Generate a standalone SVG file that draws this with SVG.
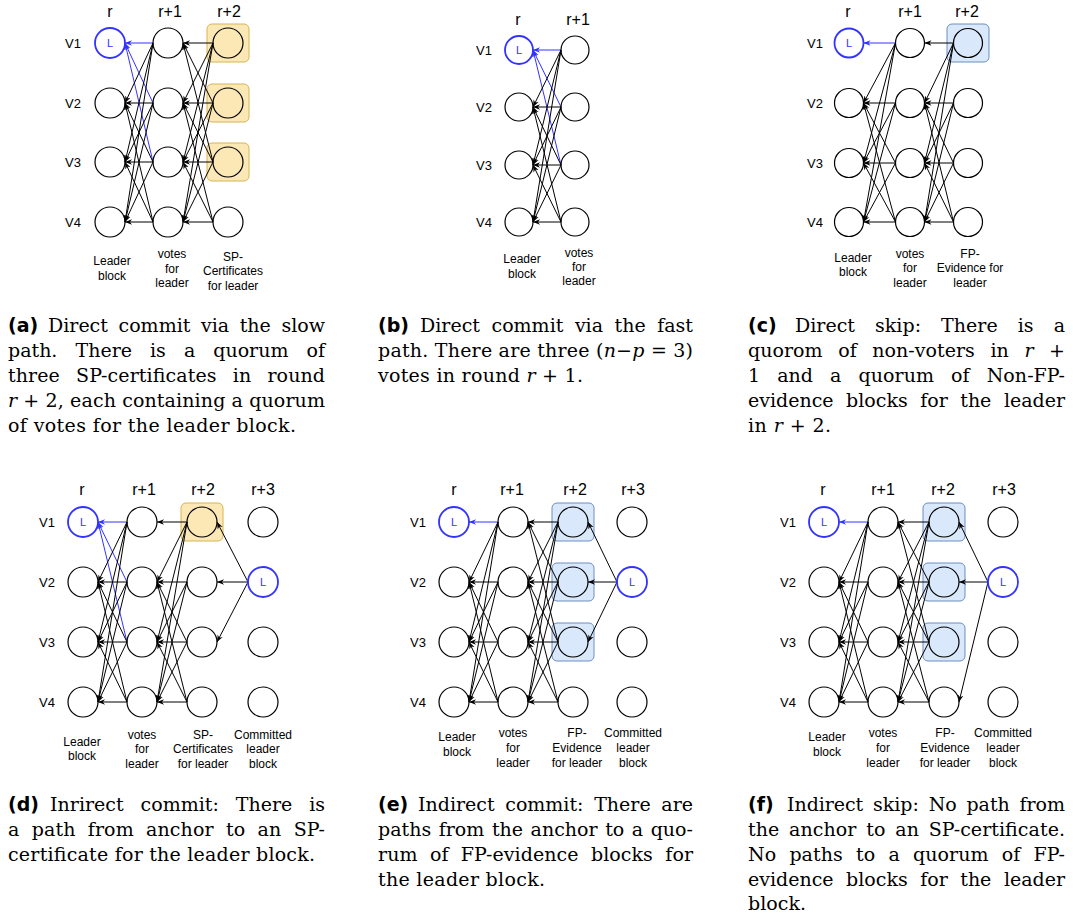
<svg xmlns="http://www.w3.org/2000/svg" width="1073" height="920" viewBox="0 0 1073 920">
<style>
.e{stroke:#000;stroke-width:1;fill:none;marker-end:url(#ak)}
.b{stroke:#3333ff;stroke-width:1;fill:none;marker-end:url(#ab)}
.n{fill:none;stroke:#000;stroke-width:1.2}
.L{fill:none;stroke:#3333ff;stroke-width:1.8}
.lt{font-family:'Liberation Sans',Arial,sans-serif;font-size:11px;fill:#3333ff;text-anchor:middle}
.h{font-family:'Liberation Sans',Arial,sans-serif;font-size:16px;text-anchor:middle;fill:#000}
.v{font-family:'Liberation Sans',Arial,sans-serif;font-size:13px;text-anchor:middle;fill:#000}
.lb{font-family:'Liberation Sans',Arial,sans-serif;font-size:12px;text-anchor:middle;fill:#000}
.yb{fill:#fce8b4;stroke:#d6b656;stroke-width:1}
.bb{fill:#dae8fc;stroke:#6c8ebf;stroke-width:1}
.cap{font-family:'DejaVu Serif','Liberation Serif',serif;font-size:19px;fill:#000}
.tag{font-family:'DejaVu Sans',sans-serif;font-weight:bold;font-size:19px;fill:#000}
.i{font-style:italic}
</style>
<defs>
<marker id="ak" viewBox="0 0 10 10" refX="10" refY="5" markerWidth="7" markerHeight="7" markerUnits="userSpaceOnUse" orient="auto"><path d="M0,1 L10,5 L0,9 L3,5 z" fill="#000"/></marker>
<marker id="ab" viewBox="0 0 10 10" refX="10" refY="5" markerWidth="7" markerHeight="7" markerUnits="userSpaceOnUse" orient="auto"><path d="M0,1 L10,5 L0,9 L3,5 z" fill="#3333ff"/></marker>
</defs>
<rect width="1073" height="920" fill="#fff"/>

<g id="boxes">
<rect class="yb" x="207" y="24" width="42" height="38" rx="5"/>
<rect class="yb" x="207" y="84" width="42" height="38" rx="5"/>
<rect class="yb" x="207" y="143" width="42" height="38" rx="5"/>
<rect class="bb" x="947" y="24" width="42" height="38" rx="5"/>
<rect class="yb" x="181" y="503" width="42" height="38" rx="5"/>
<rect class="bb" x="552" y="503" width="42" height="38" rx="5"/>
<rect class="bb" x="552" y="563" width="42" height="38" rx="5"/>
<rect class="bb" x="552" y="623" width="42" height="38" rx="5"/>
<rect class="bb" x="923" y="503" width="42" height="38" rx="5"/>
<rect class="bb" x="923" y="563" width="42" height="38" rx="5"/>
<rect class="bb" x="923" y="623" width="42" height="38" rx="5"/>
</g>

<g id="connectors">
<line class="b" x1="153" y1="43" x2="125" y2="43"/>
<line class="b" x1="153" y1="103" x2="125" y2="43"/>
<line class="b" x1="153" y1="162" x2="125" y2="43"/>
<line class="e" x1="153" y1="43" x2="125" y2="103"/>
<line class="e" x1="153" y1="43" x2="125" y2="162"/>
<line class="e" x1="153" y1="43" x2="125" y2="222"/>
<line class="e" x1="153" y1="103" x2="125" y2="103"/>
<line class="e" x1="153" y1="103" x2="125" y2="162"/>
<line class="e" x1="153" y1="103" x2="125" y2="222"/>
<line class="e" x1="153" y1="162" x2="125" y2="103"/>
<line class="e" x1="153" y1="162" x2="125" y2="162"/>
<line class="e" x1="153" y1="162" x2="125" y2="222"/>
<line class="e" x1="153" y1="222" x2="125" y2="103"/>
<line class="e" x1="153" y1="222" x2="125" y2="162"/>
<line class="e" x1="153" y1="222" x2="125" y2="222"/>
<line class="e" x1="213" y1="43" x2="183" y2="43"/>
<line class="e" x1="213" y1="43" x2="183" y2="103"/>
<line class="e" x1="213" y1="43" x2="183" y2="162"/>
<line class="e" x1="213" y1="43" x2="183" y2="222"/>
<line class="e" x1="213" y1="103" x2="183" y2="43"/>
<line class="e" x1="213" y1="103" x2="183" y2="103"/>
<line class="e" x1="213" y1="103" x2="183" y2="162"/>
<line class="e" x1="213" y1="103" x2="183" y2="222"/>
<line class="e" x1="213" y1="162" x2="183" y2="43"/>
<line class="e" x1="213" y1="162" x2="183" y2="103"/>
<line class="e" x1="213" y1="162" x2="183" y2="162"/>
<line class="e" x1="213" y1="162" x2="183" y2="222"/>
<line class="e" x1="213" y1="222" x2="183" y2="103"/>
<line class="e" x1="213" y1="222" x2="183" y2="162"/>
<line class="e" x1="213" y1="222" x2="183" y2="222"/>

<line class="b" x1="561" y1="50" x2="533" y2="50"/>
<line class="b" x1="561" y1="107" x2="533" y2="50"/>
<line class="b" x1="561" y1="165" x2="533" y2="50"/>
<line class="e" x1="561" y1="50" x2="533" y2="107"/>
<line class="e" x1="561" y1="50" x2="533" y2="165"/>
<line class="e" x1="561" y1="50" x2="533" y2="222"/>
<line class="e" x1="561" y1="107" x2="533" y2="107"/>
<line class="e" x1="561" y1="107" x2="533" y2="165"/>
<line class="e" x1="561" y1="107" x2="533" y2="222"/>
<line class="e" x1="561" y1="165" x2="533" y2="107"/>
<line class="e" x1="561" y1="165" x2="533" y2="165"/>
<line class="e" x1="561" y1="165" x2="533" y2="222"/>
<line class="e" x1="561" y1="222" x2="533" y2="107"/>
<line class="e" x1="561" y1="222" x2="533" y2="165"/>
<line class="e" x1="561" y1="222" x2="533" y2="222"/>

<line class="b" x1="895.5" y1="43" x2="863.5" y2="43"/>
<line class="e" x1="895.5" y1="43" x2="863.5" y2="103"/>
<line class="e" x1="895.5" y1="43" x2="863.5" y2="163"/>
<line class="e" x1="895.5" y1="43" x2="863.5" y2="222"/>
<line class="e" x1="895.5" y1="103" x2="863.5" y2="103"/>
<line class="e" x1="895.5" y1="103" x2="863.5" y2="163"/>
<line class="e" x1="895.5" y1="103" x2="863.5" y2="222"/>
<line class="e" x1="895.5" y1="163" x2="863.5" y2="103"/>
<line class="e" x1="895.5" y1="163" x2="863.5" y2="163"/>
<line class="e" x1="895.5" y1="163" x2="863.5" y2="222"/>
<line class="e" x1="895.5" y1="222" x2="863.5" y2="103"/>
<line class="e" x1="895.5" y1="222" x2="863.5" y2="163"/>
<line class="e" x1="895.5" y1="222" x2="863.5" y2="222"/>
<line class="e" x1="953.5" y1="43" x2="924.5" y2="43"/>
<line class="e" x1="953.5" y1="43" x2="924.5" y2="103"/>
<line class="e" x1="953.5" y1="43" x2="924.5" y2="163"/>
<line class="e" x1="953.5" y1="43" x2="924.5" y2="222"/>
<line class="e" x1="953.5" y1="103" x2="924.5" y2="103"/>
<line class="e" x1="953.5" y1="103" x2="924.5" y2="163"/>
<line class="e" x1="953.5" y1="103" x2="924.5" y2="222"/>
<line class="e" x1="953.5" y1="163" x2="924.5" y2="103"/>
<line class="e" x1="953.5" y1="163" x2="924.5" y2="163"/>
<line class="e" x1="953.5" y1="163" x2="924.5" y2="222"/>
<line class="e" x1="953.5" y1="222" x2="924.5" y2="103"/>
<line class="e" x1="953.5" y1="222" x2="924.5" y2="163"/>
<line class="e" x1="953.5" y1="222" x2="924.5" y2="222"/>

<line class="b" x1="127" y1="522" x2="98" y2="522"/>
<line class="b" x1="127" y1="582" x2="98" y2="522"/>
<line class="b" x1="127" y1="642" x2="98" y2="522"/>
<line class="e" x1="127" y1="522" x2="98" y2="582"/>
<line class="e" x1="127" y1="522" x2="98" y2="642"/>
<line class="e" x1="127" y1="522" x2="98" y2="702"/>
<line class="e" x1="127" y1="582" x2="98" y2="582"/>
<line class="e" x1="127" y1="582" x2="98" y2="642"/>
<line class="e" x1="127" y1="582" x2="98" y2="702"/>
<line class="e" x1="127" y1="642" x2="98" y2="582"/>
<line class="e" x1="127" y1="642" x2="98" y2="642"/>
<line class="e" x1="127" y1="642" x2="98" y2="702"/>
<line class="e" x1="127" y1="702" x2="98" y2="582"/>
<line class="e" x1="127" y1="702" x2="98" y2="642"/>
<line class="e" x1="127" y1="702" x2="98" y2="702"/>
<line class="e" x1="187" y1="522" x2="157" y2="522"/>
<line class="e" x1="187" y1="522" x2="157" y2="582"/>
<line class="e" x1="187" y1="522" x2="157" y2="642"/>
<line class="e" x1="187" y1="522" x2="157" y2="702"/>
<line class="e" x1="187" y1="582" x2="157" y2="582"/>
<line class="e" x1="187" y1="582" x2="157" y2="642"/>
<line class="e" x1="187" y1="582" x2="157" y2="702"/>
<line class="e" x1="187" y1="642" x2="157" y2="582"/>
<line class="e" x1="187" y1="642" x2="157" y2="642"/>
<line class="e" x1="187" y1="642" x2="157" y2="702"/>
<line class="e" x1="187" y1="702" x2="157" y2="582"/>
<line class="e" x1="187" y1="702" x2="157" y2="642"/>
<line class="e" x1="187" y1="702" x2="157" y2="702"/>
<line class="e" x1="248" y1="582" x2="217" y2="522"/>
<line class="e" x1="248" y1="582" x2="217" y2="582"/>
<line class="e" x1="248" y1="582" x2="217" y2="642"/>

<line class="b" x1="498" y1="522" x2="469" y2="522"/>
<line class="e" x1="498" y1="522" x2="469" y2="582"/>
<line class="e" x1="498" y1="522" x2="469" y2="642"/>
<line class="e" x1="498" y1="522" x2="469" y2="702"/>
<line class="e" x1="498" y1="582" x2="469" y2="582"/>
<line class="e" x1="498" y1="582" x2="469" y2="642"/>
<line class="e" x1="498" y1="582" x2="469" y2="702"/>
<line class="e" x1="498" y1="642" x2="469" y2="582"/>
<line class="e" x1="498" y1="642" x2="469" y2="642"/>
<line class="e" x1="498" y1="642" x2="469" y2="702"/>
<line class="e" x1="498" y1="702" x2="469" y2="582"/>
<line class="e" x1="498" y1="702" x2="469" y2="642"/>
<line class="e" x1="498" y1="702" x2="469" y2="702"/>
<line class="e" x1="558" y1="522" x2="528" y2="522"/>
<line class="e" x1="558" y1="522" x2="528" y2="582"/>
<line class="e" x1="558" y1="522" x2="528" y2="642"/>
<line class="e" x1="558" y1="522" x2="528" y2="702"/>
<line class="e" x1="558" y1="582" x2="528" y2="522"/>
<line class="e" x1="558" y1="582" x2="528" y2="582"/>
<line class="e" x1="558" y1="582" x2="528" y2="642"/>
<line class="e" x1="558" y1="582" x2="528" y2="702"/>
<line class="e" x1="558" y1="642" x2="528" y2="522"/>
<line class="e" x1="558" y1="642" x2="528" y2="582"/>
<line class="e" x1="558" y1="642" x2="528" y2="642"/>
<line class="e" x1="558" y1="642" x2="528" y2="702"/>
<line class="e" x1="558" y1="702" x2="528" y2="582"/>
<line class="e" x1="558" y1="702" x2="528" y2="642"/>
<line class="e" x1="558" y1="702" x2="528" y2="702"/>
<line class="e" x1="617" y1="582" x2="588" y2="522"/>
<line class="e" x1="617" y1="582" x2="588" y2="582"/>
<line class="e" x1="617" y1="582" x2="588" y2="642"/>

<line class="b" x1="868" y1="522" x2="839" y2="522"/>
<line class="e" x1="868" y1="522" x2="839" y2="582"/>
<line class="e" x1="868" y1="522" x2="839" y2="642"/>
<line class="e" x1="868" y1="522" x2="839" y2="702"/>
<line class="e" x1="868" y1="582" x2="839" y2="582"/>
<line class="e" x1="868" y1="582" x2="839" y2="642"/>
<line class="e" x1="868" y1="582" x2="839" y2="702"/>
<line class="e" x1="868" y1="642" x2="839" y2="582"/>
<line class="e" x1="868" y1="642" x2="839" y2="642"/>
<line class="e" x1="868" y1="642" x2="839" y2="702"/>
<line class="e" x1="868" y1="702" x2="839" y2="582"/>
<line class="e" x1="868" y1="702" x2="839" y2="642"/>
<line class="e" x1="868" y1="702" x2="839" y2="702"/>
<line class="e" x1="929" y1="522" x2="898" y2="522"/>
<line class="e" x1="929" y1="522" x2="898" y2="582"/>
<line class="e" x1="929" y1="522" x2="898" y2="642"/>
<line class="e" x1="929" y1="522" x2="898" y2="702"/>
<line class="e" x1="929" y1="582" x2="898" y2="522"/>
<line class="e" x1="929" y1="582" x2="898" y2="582"/>
<line class="e" x1="929" y1="582" x2="898" y2="642"/>
<line class="e" x1="929" y1="582" x2="898" y2="702"/>
<line class="e" x1="929" y1="642" x2="898" y2="522"/>
<line class="e" x1="929" y1="642" x2="898" y2="582"/>
<line class="e" x1="929" y1="642" x2="898" y2="642"/>
<line class="e" x1="929" y1="642" x2="898" y2="702"/>
<line class="e" x1="929" y1="702" x2="898" y2="582"/>
<line class="e" x1="929" y1="702" x2="898" y2="642"/>
<line class="e" x1="929" y1="702" x2="898" y2="702"/>
<line class="e" x1="988" y1="582" x2="959" y2="522"/>
<line class="e" x1="988" y1="582" x2="959" y2="582"/>
<line class="e" x1="988" y1="582" x2="959" y2="702"/>
</g>

<g id="a-r-v1"><circle class="L" cx="110" cy="43" r="15"/><text class="lt" x="110" y="47">L</text></g>
<g id="a-r-v2"><circle class="n" cx="110" cy="103" r="15"/></g>
<g id="a-r-v3"><circle class="n" cx="110" cy="162" r="15"/></g>
<g id="a-r-v4"><circle class="n" cx="110" cy="222" r="15"/></g>
<g id="a-r1-v1"><circle class="n" cx="168" cy="43" r="15"/></g>
<g id="a-r1-v2"><circle class="n" cx="168" cy="103" r="15"/></g>
<g id="a-r1-v3"><circle class="n" cx="168" cy="162" r="15"/></g>
<g id="a-r1-v4"><circle class="n" cx="168" cy="222" r="15"/></g>
<g id="a-r2-v1"><circle class="n" cx="228" cy="43" r="15"/></g>
<g id="a-r2-v2"><circle class="n" cx="228" cy="103" r="15"/></g>
<g id="a-r2-v3"><circle class="n" cx="228" cy="162" r="15"/></g>
<g id="a-r2-v4"><circle class="n" cx="228" cy="222" r="15"/></g>
<g id="a-labels">
<text class="h" x="110" y="17">r</text><text class="h" x="170" y="17">r+1</text><text class="h" x="229" y="17">r+2</text>
<text class="v" x="73" y="48">V1</text><text class="v" x="73" y="108">V2</text><text class="v" x="73" y="167">V3</text><text class="v" x="73" y="227">V4</text>
<text class="lb" x="112" y="265">Leader</text><text class="lb" x="112" y="280">block</text>
<text class="lb" x="172" y="258">votes</text><text class="lb" x="172" y="273">for</text><text class="lb" x="172" y="287">leader</text>
<text class="lb" x="233" y="261">SP-</text><text class="lb" x="233" y="275">Certificates</text><text class="lb" x="233" y="290">for leader</text>
</g>

<g id="b-r-v1"><circle class="L" cx="519" cy="50" r="14"/><text class="lt" x="519" y="54">L</text></g>
<g id="b-r-v2"><circle class="n" cx="519" cy="107" r="14"/></g>
<g id="b-r-v3"><circle class="n" cx="519" cy="165" r="14"/></g>
<g id="b-r-v4"><circle class="n" cx="519" cy="222" r="14"/></g>
<g id="b-r1-v1"><circle class="n" cx="575" cy="50" r="14"/></g>
<g id="b-r1-v2"><circle class="n" cx="575" cy="107" r="14"/></g>
<g id="b-r1-v3"><circle class="n" cx="575" cy="165" r="14"/></g>
<g id="b-r1-v4"><circle class="n" cx="575" cy="222" r="14"/></g>
<g id="b-labels">
<text class="h" x="518" y="25">r</text><text class="h" x="578" y="25">r+1</text>
<text class="v" x="484" y="55">V1</text><text class="v" x="484" y="112">V2</text><text class="v" x="484" y="170">V3</text><text class="v" x="484" y="227">V4</text>
<text class="lb" x="522" y="263">Leader</text><text class="lb" x="522" y="278">block</text>
<text class="lb" x="579" y="257">votes</text><text class="lb" x="579" y="271">for</text><text class="lb" x="579" y="285">leader</text>
</g>

<g id="c-r-v1"><circle class="L" cx="849" cy="43" r="14.5"/><text class="lt" x="849" y="47">L</text></g>
<g id="c-r-v2"><circle class="n" cx="849" cy="103" r="14.5"/></g>
<g id="c-r-v3"><circle class="n" cx="849" cy="163" r="14.5"/></g>
<g id="c-r-v4"><circle class="n" cx="849" cy="222" r="14.5"/></g>
<g id="c-r1-v1"><circle class="n" cx="910" cy="43" r="14.5"/></g>
<g id="c-r1-v2"><circle class="n" cx="910" cy="103" r="14.5"/></g>
<g id="c-r1-v3"><circle class="n" cx="910" cy="163" r="14.5"/></g>
<g id="c-r1-v4"><circle class="n" cx="910" cy="222" r="14.5"/></g>
<g id="c-r2-v1"><circle class="n" cx="968" cy="43" r="14.5"/></g>
<g id="c-r2-v2"><circle class="n" cx="968" cy="103" r="14.5"/></g>
<g id="c-r2-v3"><circle class="n" cx="968" cy="163" r="14.5"/></g>
<g id="c-r2-v4"><circle class="n" cx="968" cy="222" r="14.5"/></g>
<g id="c-labels">
<text class="h" x="848" y="17">r</text><text class="h" x="910" y="17">r+1</text><text class="h" x="967" y="17">r+2</text>
<text class="v" x="815" y="48">V1</text><text class="v" x="815" y="108">V2</text><text class="v" x="815" y="168">V3</text><text class="v" x="815" y="227">V4</text>
<text class="lb" x="853" y="262">Leader</text><text class="lb" x="853" y="276">block</text>
<text class="lb" x="910" y="258">votes</text><text class="lb" x="910" y="272">for</text><text class="lb" x="910" y="287">leader</text>
<text class="lb" x="970" y="258">FP-</text><text class="lb" x="970" y="272">Evidence for</text><text class="lb" x="970" y="287">leader</text>
</g>

<g id="d-r-v1"><circle class="L" cx="83" cy="522" r="15"/><text class="lt" x="83" y="526">L</text></g>
<g id="d-r-v2"><circle class="n" cx="83" cy="582" r="15"/></g>
<g id="d-r-v3"><circle class="n" cx="83" cy="642" r="15"/></g>
<g id="d-r-v4"><circle class="n" cx="83" cy="702" r="15"/></g>
<g id="d-r1-v1"><circle class="n" cx="142" cy="522" r="15"/></g>
<g id="d-r1-v2"><circle class="n" cx="142" cy="582" r="15"/></g>
<g id="d-r1-v3"><circle class="n" cx="142" cy="642" r="15"/></g>
<g id="d-r1-v4"><circle class="n" cx="142" cy="702" r="15"/></g>
<g id="d-r2-v1"><circle class="n" cx="202" cy="522" r="15"/></g>
<g id="d-r2-v2"><circle class="n" cx="202" cy="582" r="15"/></g>
<g id="d-r2-v3"><circle class="n" cx="202" cy="642" r="15"/></g>
<g id="d-r2-v4"><circle class="n" cx="202" cy="702" r="15"/></g>
<g id="d-r3-v1"><circle class="n" cx="263" cy="522" r="15"/></g>
<g id="d-r3-v2"><circle class="L" cx="263" cy="582" r="15"/><text class="lt" x="263" y="586">L</text></g>
<g id="d-r3-v3"><circle class="n" cx="263" cy="642" r="15"/></g>
<g id="d-r3-v4"><circle class="n" cx="263" cy="702" r="15"/></g>
<g id="d-labels">
<text class="h" x="82" y="495">r</text><text class="h" x="144" y="495">r+1</text><text class="h" x="203" y="495">r+2</text><text class="h" x="263" y="495">r+3</text>
<text class="v" x="47" y="527">V1</text><text class="v" x="47" y="587">V2</text><text class="v" x="47" y="647">V3</text><text class="v" x="47" y="707">V4</text>
<text class="lb" x="82" y="746">Leader</text><text class="lb" x="82" y="760">block</text>
<text class="lb" x="142" y="739">votes</text><text class="lb" x="142" y="753">for</text><text class="lb" x="142" y="768">leader</text>
<text class="lb" x="203" y="739">SP-</text><text class="lb" x="203" y="753">Certificates</text><text class="lb" x="203" y="768">for leader</text>
<text class="lb" x="263" y="739">Committed</text><text class="lb" x="263" y="753">leader</text><text class="lb" x="263" y="768">block</text>
</g>

<g id="e-r-v1"><circle class="L" cx="454" cy="522" r="15"/><text class="lt" x="454" y="526">L</text></g>
<g id="e-r-v2"><circle class="n" cx="454" cy="582" r="15"/></g>
<g id="e-r-v3"><circle class="n" cx="454" cy="642" r="15"/></g>
<g id="e-r-v4"><circle class="n" cx="454" cy="702" r="15"/></g>
<g id="e-r1-v1"><circle class="n" cx="513" cy="522" r="15"/></g>
<g id="e-r1-v2"><circle class="n" cx="513" cy="582" r="15"/></g>
<g id="e-r1-v3"><circle class="n" cx="513" cy="642" r="15"/></g>
<g id="e-r1-v4"><circle class="n" cx="513" cy="702" r="15"/></g>
<g id="e-r2-v1"><circle class="n" cx="573" cy="522" r="15"/></g>
<g id="e-r2-v2"><circle class="n" cx="573" cy="582" r="15"/></g>
<g id="e-r2-v3"><circle class="n" cx="573" cy="642" r="15"/></g>
<g id="e-r2-v4"><circle class="n" cx="573" cy="702" r="15"/></g>
<g id="e-r3-v1"><circle class="n" cx="632" cy="522" r="15"/></g>
<g id="e-r3-v2"><circle class="L" cx="632" cy="582" r="15"/><text class="lt" x="632" y="586">L</text></g>
<g id="e-r3-v3"><circle class="n" cx="632" cy="642" r="15"/></g>
<g id="e-r3-v4"><circle class="n" cx="632" cy="702" r="15"/></g>
<g id="e-labels">
<text class="h" x="454" y="495">r</text><text class="h" x="512" y="495">r+1</text><text class="h" x="575" y="495">r+2</text><text class="h" x="633" y="495">r+3</text>
<text class="v" x="418" y="527">V1</text><text class="v" x="418" y="587">V2</text><text class="v" x="418" y="647">V3</text><text class="v" x="418" y="707">V4</text>
<text class="lb" x="457" y="741">Leader</text><text class="lb" x="457" y="756">block</text>
<text class="lb" x="513" y="737">votes</text><text class="lb" x="513" y="752">for</text><text class="lb" x="513" y="767">leader</text>
<text class="lb" x="577" y="737">FP-</text><text class="lb" x="577" y="752">Evidence</text><text class="lb" x="577" y="767">for leader</text>
<text class="lb" x="633" y="737">Committed</text><text class="lb" x="633" y="752">leader</text><text class="lb" x="633" y="767">block</text>
</g>

<g id="f-r-v1"><circle class="L" cx="824" cy="522" r="15"/><text class="lt" x="824" y="526">L</text></g>
<g id="f-r-v2"><circle class="n" cx="824" cy="582" r="15"/></g>
<g id="f-r-v3"><circle class="n" cx="824" cy="642" r="15"/></g>
<g id="f-r-v4"><circle class="n" cx="824" cy="702" r="15"/></g>
<g id="f-r1-v1"><circle class="n" cx="883" cy="522" r="15"/></g>
<g id="f-r1-v2"><circle class="n" cx="883" cy="582" r="15"/></g>
<g id="f-r1-v3"><circle class="n" cx="883" cy="642" r="15"/></g>
<g id="f-r1-v4"><circle class="n" cx="883" cy="702" r="15"/></g>
<g id="f-r2-v1"><circle class="n" cx="944" cy="522" r="15"/></g>
<g id="f-r2-v2"><circle class="n" cx="944" cy="582" r="15"/></g>
<g id="f-r2-v3"><circle class="n" cx="944" cy="642" r="15"/></g>
<g id="f-r2-v4"><circle class="n" cx="944" cy="702" r="15"/></g>
<g id="f-r3-v1"><circle class="n" cx="1003" cy="522" r="15"/></g>
<g id="f-r3-v2"><circle class="L" cx="1003" cy="582" r="15"/><text class="lt" x="1003" y="586">L</text></g>
<g id="f-r3-v3"><circle class="n" cx="1003" cy="642" r="15"/></g>
<g id="f-r3-v4"><circle class="n" cx="1003" cy="702" r="15"/></g>
<g id="f-labels">
<text class="h" x="823" y="495">r</text><text class="h" x="883" y="495">r+1</text><text class="h" x="943" y="495">r+2</text><text class="h" x="1004" y="495">r+3</text>
<text class="v" x="788" y="527">V1</text><text class="v" x="788" y="587">V2</text><text class="v" x="788" y="647">V3</text><text class="v" x="788" y="707">V4</text>
<text class="lb" x="827" y="741">Leader</text><text class="lb" x="827" y="756">block</text>
<text class="lb" x="883" y="737">votes</text><text class="lb" x="883" y="752">for</text><text class="lb" x="883" y="767">leader</text>
<text class="lb" x="945" y="737">FP-</text><text class="lb" x="945" y="752">Evidence</text><text class="lb" x="945" y="767">for leader</text>
<text class="lb" x="1003" y="737">Committed</text><text class="lb" x="1003" y="752">leader</text><text class="lb" x="1003" y="767">block</text>
</g>

<g id="caption-a">
<text class="tag" x="8" y="332">(a)</text>
<text class="cap" x="48" y="332" word-spacing="4.6" textLength="277" lengthAdjust="spacing">Direct commit via the slow</text>
<text class="cap" x="8" y="357" word-spacing="12" textLength="317" lengthAdjust="spacing">path. There is a quorum of</text>
<text class="cap" x="8" y="382" word-spacing="10" textLength="317" lengthAdjust="spacing">three SP-certificates in round</text>
<text class="cap" x="8" y="407" textLength="317" lengthAdjust="spacing"><tspan class="i">r</tspan> + 2, each containing a quorum</text>
<text class="cap" x="8" y="432" textLength="288" lengthAdjust="spacing">of votes for the leader block.</text>
</g>
<g id="caption-b">
<text class="tag" x="378" y="332">(b)</text>
<text class="cap" x="420" y="332" word-spacing="5.5" textLength="273" lengthAdjust="spacing">Direct commit via the fast</text>
<text class="cap" x="378" y="357" textLength="315" lengthAdjust="spacing">path. There are three (<tspan class="i">n</tspan>−<tspan class="i">p</tspan> = 3)</text>
<text class="cap" x="378" y="382" textLength="205" lengthAdjust="spacing">votes in round <tspan class="i">r</tspan> + 1.</text>
</g>
<g id="caption-c">
<text class="tag" x="748" y="332">(c)</text>
<text class="cap" x="795" y="332" word-spacing="14" textLength="270" lengthAdjust="spacing">Direct skip: There is a</text>
<text class="cap" x="748" y="357" word-spacing="9.5" textLength="317" lengthAdjust="spacing">quorom of non-voters in <tspan class="i">r</tspan> +</text>
<text class="cap" x="748" y="382" word-spacing="11" textLength="317" lengthAdjust="spacing">1 and a quorum of Non-FP-</text>
<text class="cap" x="748" y="407" word-spacing="6.5" textLength="317" lengthAdjust="spacing">evidence blocks for the leader</text>
<text class="cap" x="748" y="432" textLength="83" lengthAdjust="spacing">in <tspan class="i">r</tspan> + 2.</text>
</g>
<g id="caption-d">
<text class="tag" x="8" y="811">(d)</text>
<text class="cap" x="50" y="811" word-spacing="10.8" textLength="275" lengthAdjust="spacing">Inrirect commit: There is</text>
<text class="cap" x="8" y="836" word-spacing="6.2" textLength="317" lengthAdjust="spacing">a path from anchor to an SP-</text>
<text class="cap" x="8" y="861" textLength="307" lengthAdjust="spacing">certificate for the leader block.</text>
</g>
<g id="caption-e">
<text class="tag" x="378" y="811">(e)</text>
<text class="cap" x="418" y="811" word-spacing="4.7" textLength="275" lengthAdjust="spacing">Indirect commit: There are</text>
<text class="cap" x="378" y="836" word-spacing="1.5" textLength="315" lengthAdjust="spacing">paths from the anchor to a quo-</text>
<text class="cap" x="378" y="861" word-spacing="6.2" textLength="315" lengthAdjust="spacing">rum of FP-evidence blocks for</text>
<text class="cap" x="378" y="886" textLength="167" lengthAdjust="spacing">the leader block.</text>
</g>
<g id="caption-f">
<text class="tag" x="748" y="811">(f)</text>
<text class="cap" x="787" y="811" word-spacing="3.9" textLength="278" lengthAdjust="spacing">Indirect skip: No path from</text>
<text class="cap" x="748" y="836" word-spacing="3.7" textLength="317" lengthAdjust="spacing">the anchor to an SP-certificate.</text>
<text class="cap" x="748" y="861" word-spacing="7.2" textLength="317" lengthAdjust="spacing">No paths to a quorum of FP-</text>
<text class="cap" x="748" y="886" word-spacing="6.5" textLength="317" lengthAdjust="spacing">evidence blocks for the leader</text>
<text class="cap" x="748" y="910" textLength="58" lengthAdjust="spacing">block.</text>
</g>
</svg>
